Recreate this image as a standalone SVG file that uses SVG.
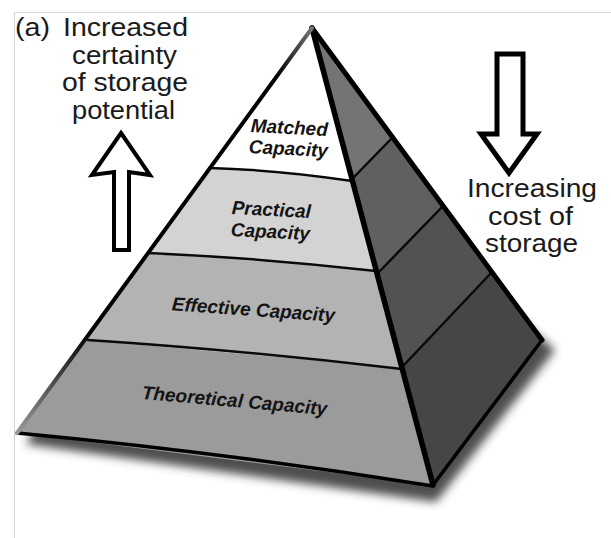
<svg xmlns="http://www.w3.org/2000/svg" width="611" height="538" viewBox="0 0 611 538">
<defs>
<style>
.lbl{font-family:"Liberation Sans",Arial,sans-serif;font-size:25px;fill:#1a1a1a}
.cap{font-family:"Liberation Sans",Arial,sans-serif;font-size:19px;font-weight:bold;font-style:italic;fill:#141414;text-anchor:middle}
.edge{fill:none;stroke:#000;stroke-linecap:round;stroke-linejoin:round}
.div{fill:none;stroke:#0a0a0a;stroke-width:2.5;stroke-linecap:round}
.arrow{fill:#fff;stroke:#000;stroke-linejoin:miter}
</style>
<filter id="blur" x="-20%" y="-50%" width="140%" height="200%"><feGaussianBlur stdDeviation="5"/></filter>
<linearGradient id="lg" gradientUnits="userSpaceOnUse" x1="312" y1="28" x2="17" y2="433">
<stop offset="0" stop-color="#777"/><stop offset="0.12" stop-color="#000"/><stop offset="0.75" stop-color="#000"/><stop offset="1" stop-color="#999"/>
</linearGradient>
</defs>
<rect width="611" height="538" fill="#fff"/>
<path d="M14.5 538 V12.5 H611" fill="none" stroke="#d4d4d4" stroke-width="1"/>

<g id="shadow">
<polygon points="26,444 436,502 555,350 520,320 433,470 40,420" fill="#3a3a3a" opacity="0.9" filter="url(#blur)"/>
</g>

<g id="pyramid">
<g id="side-face">
<polygon points="312,28 393,137 352,179" fill="#747474"/>
<polygon points="352,179 393,137 443,206 376,275" fill="#606060"/>
<polygon points="376,275 443,206 492,272 402,367" fill="#525252"/>
<polygon points="402,367 492,272 542,340 433,485" fill="#464646"/>
<path class="div" d="M354,177 L393,137"/>
<path class="div" d="M378,273 L443,206"/>
<path class="div" d="M404,365 L492,272"/>
</g>
<g id="layer-matched">
<polygon points="312,28 352,180 210,168" fill="#fff"/>
<text class="cap" x="289" y="134" transform="rotate(3 289 134)">Matched</text>
<text class="cap" x="288" y="155" transform="rotate(3 288 155)">Capacity</text>
</g>
<g id="layer-practical">
<polygon points="210,168 352,180 376,270 148,253" fill="#d3d3d3"/>
<text class="cap" x="271" y="216" transform="rotate(3 271 216)">Practical</text>
<text class="cap" x="270" y="238" transform="rotate(3 270 238)">Capacity</text>
</g>
<g id="layer-effective">
<polygon points="148,253 376,270 402,368 87,340" fill="#b3b3b3"/>
<text class="cap" x="253" y="316" transform="rotate(4 253 316)">Effective Capacity</text>
</g>
<g id="layer-theoretical">
<polygon points="87,340 402,368 433,485 17,433" fill="#9b9b9b"/>
<text class="cap" x="234" y="407" transform="rotate(5 234 407)">Theoretical Capacity</text>
</g>
<g id="edges">
<path class="div" d="M210,168 Q280,170 352,181"/>
<path class="div" d="M148,253 Q260,258 376,271"/>
<path class="div" d="M88,340 Q240,350 402,369"/>
<path class="edge" d="M17,433 Q220,452 433,486" stroke-width="3.5"/>
<path class="edge" d="M542,340 L433,485" stroke-width="3.5"/>
<path class="edge" d="M312,28 L542,340" stroke-width="5"/>
<path class="edge" d="M312,28 L433,485" stroke-width="5.5"/>
<path d="M312,28 L17,433" fill="none" stroke="url(#lg)" stroke-width="4" stroke-linecap="round"/>
</g>
</g>

<g id="label-certainty">
<text class="lbl" x="15" y="36" textLength="35" lengthAdjust="spacingAndGlyphs">(a)</text>
<text class="lbl" x="63" y="36" textLength="125" lengthAdjust="spacingAndGlyphs">Increased</text>
<text class="lbl" x="72" y="64" textLength="105" lengthAdjust="spacingAndGlyphs">certainty</text>
<text class="lbl" x="62" y="91" textLength="126" lengthAdjust="spacingAndGlyphs">of storage</text>
<text class="lbl" x="72" y="119" textLength="103" lengthAdjust="spacingAndGlyphs">potential</text>
</g>
<g id="label-cost">
<text class="lbl" x="467" y="197" textLength="130" lengthAdjust="spacingAndGlyphs">Increasing</text>
<text class="lbl" x="488" y="225" textLength="85" lengthAdjust="spacingAndGlyphs">cost of</text>
<text class="lbl" x="485" y="252" textLength="93" lengthAdjust="spacingAndGlyphs">storage</text>
</g>

<g id="connectors">
<path id="arrow-up" class="arrow" stroke-width="4" d="M121,133 L150,175 L129,172 L129,250 L114,250 L114,172 L92,175 Z"/>
<path id="arrow-down" class="arrow" stroke-width="5" d="M497,54 L523,54 L523,134 L537,134 L509,173 L481,134 L497,134 Z"/>
</g>
</svg>
